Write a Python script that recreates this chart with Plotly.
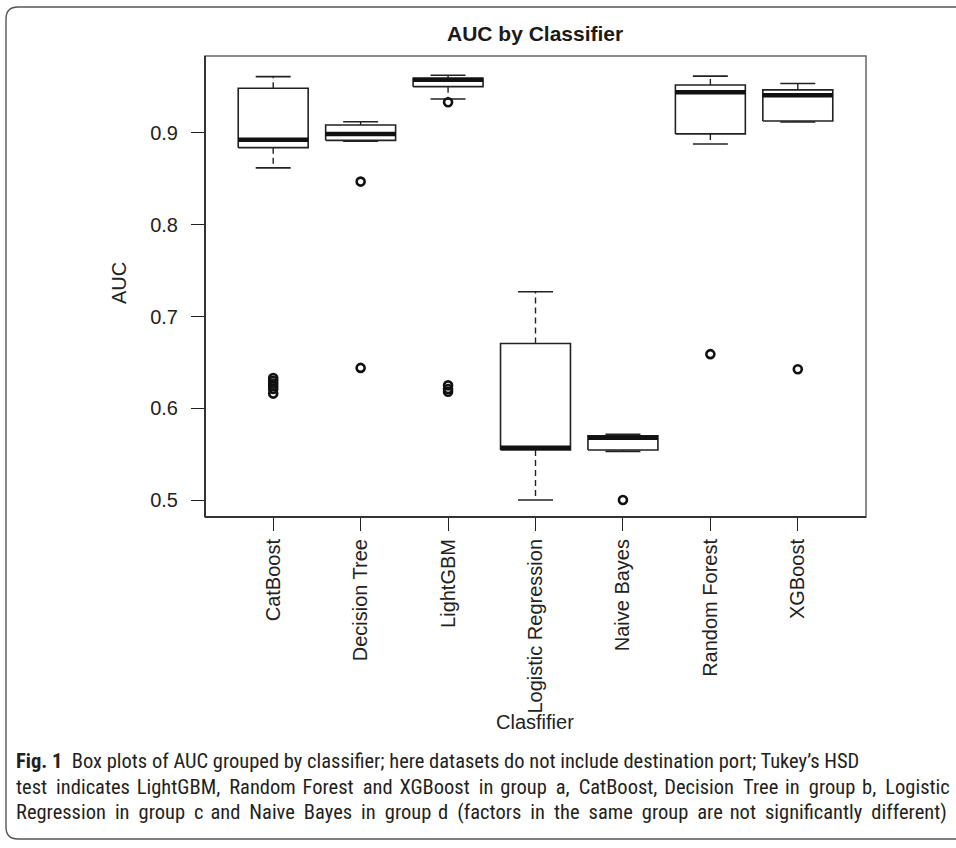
import plotly.graph_objects as go

# ---- data -------------------------------------------------------------
classifiers = ["CatBoost", "Decision Tree", "LightGBM", "Logistic Regression",
               "Naive Bayes", "Random Forest", "XGBoost"]
lower_whisker = [0.862, 0.891, 0.937, 0.500, 0.553, 0.888, 0.912]
q1 = [0.884, 0.892, 0.9505, 0.5545, 0.5545, 0.899, 0.913]
median = [0.8925, 0.899, 0.958, 0.557, 0.568, 0.9445, 0.941]
q3 = [0.9487, 0.9087, 0.9596, 0.6705, 0.570, 0.9523, 0.947]
upper_whisker = [0.9614, 0.9123, 0.9629, 0.727, 0.5716, 0.962, 0.954]
outliers = [
    [0.633, 0.630, 0.627, 0.624, 0.621, 0.616],
    [0.847, 0.644],
    [0.9335, 0.625, 0.621, 0.618],
    [],
    [0.500],
    [0.659],
    [0.6425],
]
y_ticks = [0.5, 0.6, 0.7, 0.8, 0.9]

caption_lines = [
    "<b>Fig. 1</b>  Box plots of AUC grouped by classifier; here datasets do not include destination port; Tukey’s HSD",
    "test indicates LightGBM, Random Forest and XGBoost in group a, CatBoost, Decision Tree in group b, Logistic",
    "Regression in group c and Naive Bayes in group d (factors in the same group are not significantly different)",
]
# hair spaces spread over the word gaps of each caption line (justified text)
caption_hair_spaces = [0, 25, 33]


def justify(line, n_hair):
    words = line.split(" ")
    gaps = len(words) - 1
    if n_hair == 0 or gaps == 0:
        return line
    out = words[0]
    for k in range(gaps):
        cnt = round((k + 1) * n_hair / gaps) - round(k * n_hair / gaps)
        out += " " + "\u200a" * cnt + words[k + 1]
    return out


# ---- geometry ---------------------------------------------------------
W, H = 956, 848
L, R, T, B = 205, 90, 56, 331
PW, PH = W - L - R, H - T - B

def xp(px):
    return (px - L) / PW

def yp(py):
    return (H - B - py) / PH

INK = "#222222"
BOX_HALF = 0.4      # R boxwex 0.8
STAPLE_HALF = 0.2   # R staplewex 0.5

fig = go.Figure()

for i, name in enumerate(classifiers):
    x = i + 1
    # box body
    fig.add_trace(go.Scatter(
        x=[x - BOX_HALF, x + BOX_HALF, x + BOX_HALF, x - BOX_HALF, x - BOX_HALF],
        y=[q1[i], q1[i], q3[i], q3[i], q1[i]],
        mode="lines", fill="toself", fillcolor="white",
        line=dict(color=INK, width=1.6), hoverinfo="skip", showlegend=False))
    # dashed whiskers
    for a, b in ((q3[i], upper_whisker[i]), (q1[i], lower_whisker[i])):
        fig.add_trace(go.Scatter(
            x=[x, x], y=[a, b], mode="lines",
            line=dict(color=INK, width=1.4, dash="6px,4px"),
            hoverinfo="skip", showlegend=False))
    # staples
    for v in (upper_whisker[i], lower_whisker[i]):
        fig.add_trace(go.Scatter(
            x=[x - STAPLE_HALF, x + STAPLE_HALF], y=[v, v], mode="lines",
            line=dict(color=INK, width=1.6), hoverinfo="skip", showlegend=False))
    # median
    fig.add_trace(go.Scatter(
        x=[x - BOX_HALF, x + BOX_HALF], y=[median[i], median[i]], mode="lines",
        line=dict(color="#111111", width=4.5), name=name, showlegend=False))
    # outliers
    if outliers[i]:
        fig.add_trace(go.Scatter(
            x=[x] * len(outliers[i]), y=outliers[i], mode="markers",
            marker=dict(symbol="circle-open", size=8, color="#111111",
                        line=dict(width=2.6, color="#111111")),
            name=name, showlegend=False))

AXIS_FONT = dict(family="Liberation Sans", size=20, color=INK)

fig.update_xaxes(
    range=[0.22, 7.78], tickmode="array",
    tickvals=list(range(1, len(classifiers) + 1)), ticktext=classifiers,
    tickangle=-90, ticks="outside", ticklen=13, tickwidth=1.4, tickcolor=INK,
    tickfont=AXIS_FONT, ticklabelstandoff=0,
    showgrid=False, zeroline=False, showline=False)
fig.update_yaxes(
    range=[0.4815, 0.9839], tickmode="array", tickvals=y_ticks,
    ticktext=[f"{v:.1f}" for v in y_ticks],
    ticks="outside", ticklen=13, tickwidth=1.4, tickcolor=INK,
    tickfont=AXIS_FONT, ticklabelstandoff=9,
    showgrid=False, zeroline=False, showline=False)

shapes = [
    # plot frame
    dict(type="rect", xref="paper", yref="paper", x0=0, y0=0, x1=1, y1=1,
         line=dict(color="#666666", width=1.5), layer="above"),
    dict(type="line", xref="paper", yref="paper", x0=0, y0=0, x1=0, y1=1,
         line=dict(color="#333333", width=2), layer="above"),
    dict(type="line", xref="paper", yref="paper", x0=0, y0=0, x1=1, y1=0,
         line=dict(color="#333333", width=2), layer="above"),
]

# rounded caption frame around the whole figure
x0, x1, y0, y1, rad = 6, 975, 7, 839, 12
rx, ry = rad / PW, rad / PH
frame_path = (
    f"M {xp(x0)},{yp(y0) - ry} "
    f"Q {xp(x0)},{yp(y0)} {xp(x0) + rx},{yp(y0)} "
    f"L {xp(x1) - rx},{yp(y0)} "
    f"Q {xp(x1)},{yp(y0)} {xp(x1)},{yp(y0) - ry} "
    f"L {xp(x1)},{yp(y1) + ry} "
    f"Q {xp(x1)},{yp(y1)} {xp(x1) - rx},{yp(y1)} "
    f"L {xp(x0) + rx},{yp(y1)} "
    f"Q {xp(x0)},{yp(y1)} {xp(x0)},{yp(y1) + ry} Z"
)
shapes.append(dict(type="path", xref="paper", yref="paper", path=frame_path,
                   line=dict(color="#555555", width=1.4), layer="below"))

annotations = [
    dict(text="<b>AUC by Classifier</b>", x=xp(535), y=yp(33), xref="paper",
         yref="paper", showarrow=False, xanchor="center", yanchor="middle",
         font=dict(family="Liberation Sans", size=21, color="#1a1a1a")),
    dict(text="AUC", x=xp(119), y=yp(283), xref="paper", yref="paper",
         showarrow=False, textangle=-90, xanchor="center", yanchor="middle",
         font=AXIS_FONT),
    dict(text="Clasfifier", x=xp(535), y=yp(722), xref="paper", yref="paper",
         showarrow=False, xanchor="center", yanchor="middle", font=AXIS_FONT),
]
caption_y = [761, 787, 812]
for line, n_hair, cy in zip(caption_lines, caption_hair_spaces, caption_y):
    annotations.append(dict(
        text=justify(line, n_hair),
        x=xp(14), y=yp(cy), xref="paper", yref="paper",
        showarrow=False, xanchor="left", yanchor="middle", align="left",
        font=dict(family="Roboto Condensed", size=20.5, color="#231f20")))

fig.update_layout(
    width=W, height=H, margin=dict(l=L, r=R, t=T, b=B),
    paper_bgcolor="white", plot_bgcolor="white",
    shapes=shapes, annotations=annotations, showlegend=False)

fig.write_html("out.html")
